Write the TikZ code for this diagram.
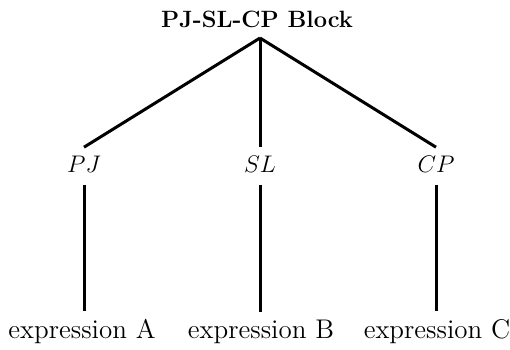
\documentclass[tikz,border=0pt]{standalone}
\usepackage{amsmath}
\usetikzlibrary{positioning}

\tikzset{
    root/.style={inner sep=0pt, anchor=base, font=\fontsize{11.8}{14}\selectfont\bfseries},
    branch/.style={inner sep=4pt, anchor=base, font=\fontsize{12.5}{14}\selectfont},
    leaf/.style={inner sep=0pt, anchor=base, font=\fontsize{13.5}{16}\selectfont},
    edge/.style={line width=1.5pt},
}

\begin{document}
\begin{tikzpicture}
        \useasboundingbox (0,0) rectangle (255pt,-174.5pt);
        \node[root] (block) at (128.5pt,-13.5pt) {PJ-SL-CP Block};
        \coordinate (top) at (130pt,-19pt);
        \node[branch] (pj) at (42pt,-86pt) {$PJ$};
        \node[branch] (sl) at (130pt,-86pt) {$SL$};
        \node[branch] (cp) at (218pt,-86pt) {$CP$};
        \node[leaf] (expA) at (41pt,-169pt) {expression A};
        \node[leaf] (expB) at (130.5pt,-169pt) {expression B};
        \node[leaf] (expC) at (218.5pt,-169pt) {expression C};
        \draw[edge] (top) -- (pj.north);
        \draw[edge] (top) -- (sl.north);
        \draw[edge] (top) -- (cp.north);
        \draw[edge,shorten <=2.2pt,shorten >=3.6pt] (pj.south) -- (pj.south |- expA.north);
        \draw[edge,shorten <=2.2pt,shorten >=3.6pt] (sl.south) -- (sl.south |- expB.north);
        \draw[edge,shorten <=2.2pt,shorten >=3.6pt] (cp.south) -- (cp.south |- expC.north);
\end{tikzpicture}
\end{document}
